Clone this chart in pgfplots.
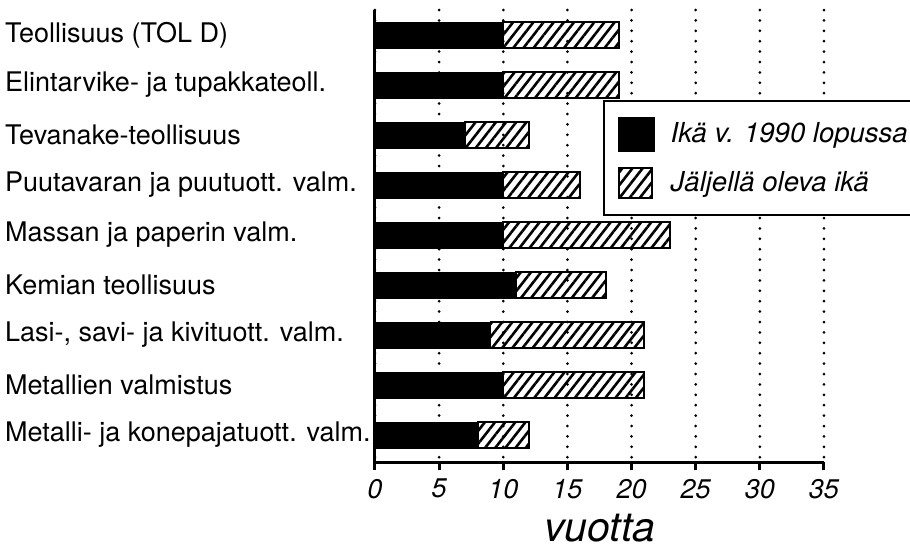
\documentclass[border=0pt]{standalone}
\usepackage{fontspec}
\setmainfont{TeX Gyre Heros}
\usepackage{pgfplots}
\pgfplotsset{compat=1.18}
\usetikzlibrary{patterns.meta}
\newcommand{\fs}{\fontsize{27}{30}\selectfont}
\begin{document}
\fs
\begin{tikzpicture}
\begin{axis}[
  at={(0,0)}, anchor=south west,
  scale only axis, width=449pt, height=452pt,
  xbar stacked, bar width=26pt,
  xmin=0, xmax=35, ymin=-0.5, ymax=8.54,
  y dir=reverse,
  axis x line=bottom, axis y line=left,
  axis line style={line width=3pt, -},
  xtick={0,5,...,35}, xticklabels={0,5,10,15,20,25,30,35},
  xticklabel style={font=\fs\itshape},
  major tick length=8pt, tick align=outside,
  x tick style={line width=3pt, black},
  ytick={0,...,8},
  yticklabels={Teollisuus (TOL D),Elintarvike- ja tupakkateoll.,Tevanake-teollisuus,Puutavaran ja puutuott. valm.,Massan ja paperin valm.,Kemian teollisuus,{Lasi-, savi- ja kivituott. valm.},Metallien valmistus,Metalli- ja konepajatuott. valm.},
  y tick style={draw=none},
  yticklabel style={anchor=west, inner sep=0pt, xshift=-362pt, font=\fs},
  xmajorgrids,
  grid style={black, line width=3pt, line cap=round, dash pattern=on 0pt off 10.4pt},
  xlabel={vuotta}, xlabel style={font=\fontsize{41}{44}\selectfont\itshape, inner sep=0pt, yshift=-6pt},
  legend cell align=left,
  legend style={at={(0.508,0.801)}, anchor=north west, draw=black, line width=2pt,
    fill=white, inner xsep=14pt, inner ysep=16pt, row sep=15pt, column sep=14pt,
    font=\fontsize{27.5}{30}\selectfont\itshape},
]
\addplot[fill=black, draw=black,
  legend image code/.code={\draw[fill=black, draw=black, line width=1.5pt] (0pt,-17pt) rectangle (35pt,17pt);}]
  coordinates {(10,0) (10,1) (7,2) (10,3) (10,4) (11,5) (9,6) (10,7) (8,8)};
\addlegendentry{Ikä v. 1990 lopussa}
\addplot[draw=black, line width=1.8pt, pattern={Lines[angle=52,distance=8pt,line width=2.6pt]},
  legend image code/.code={\draw[draw=black, line width=1.8pt, pattern={Lines[angle=52,distance=8pt,line width=2.6pt]}] (0pt,-15pt) rectangle (33pt,15pt);}]
  coordinates {(9,0) (9,1) (5,2) (6,3) (13,4) (7,5) (12,6) (11,7) (4,8)};
\addlegendentry{Jäljellä oleva ikä}
\end{axis}
\pgfresetboundingbox
\useasboundingbox (-375pt,-87pt) rectangle (535pt,462pt);
\end{tikzpicture}
\end{document}
